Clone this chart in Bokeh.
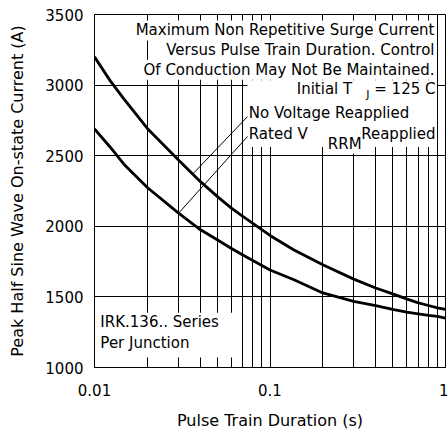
from bokeh.plotting import figure
from bokeh.models import FixedTicker, Label, BoxAnnotation
from bokeh.embed import file_html
from bokeh.resources import INLINE

# ---------------- data ----------------
duration_s = [0.01, 0.0123, 0.0147, 0.02, 0.03, 0.04, 0.05, 0.06, 0.07, 0.1,
              0.137, 0.2, 0.3, 0.4, 0.5, 0.6, 0.7, 0.8, 0.9, 1.0]
no_voltage_reapplied = [3200, 3030, 2902, 2693, 2472, 2318, 2212, 2130, 2071, 1935,
                        1832, 1727, 1626, 1563, 1521, 1486, 1458, 1439, 1423, 1411]
rated_vrrm_reapplied = [2690, 2560, 2440, 2275, 2095, 1977, 1905, 1845, 1797, 1690,
                        1621, 1528, 1469, 1439, 1411, 1392, 1380, 1369, 1362, 1350]

x_ticks = [0.01, 0.1, 1]
x_tick_labels = ["0.01", "0.1", "1"]
y_ticks = [1000, 1500, 2000, 2500, 3000, 3500]
x_grid_values = [0.02, 0.03, 0.04, 0.05, 0.06, 0.07, 0.08, 0.09, 0.1,
                 0.2, 0.3, 0.4, 0.5, 0.6, 0.7, 0.8, 0.9]
y_grid_values = [1500, 2000, 2500, 3000]

# leader lines from the legend texts to the curves
leader_x0 = [0.0757, 0.0757]
leader_y0 = [2786, 2646]
leader_x1 = [0.036, 0.030]
leader_y1 = [2366, 2090]

FONT = "DejaVu Sans"

p = figure(width=448, height=432, x_axis_type="log",
           x_range=(0.01, 1), y_range=(1000, 3500),
           output_backend="svg", toolbar_location=None,
           min_border_left=94, min_border_right=3,
           min_border_top=14, min_border_bottom=64)

p.background_fill_color = "white"
p.border_fill_color = "white"
p.outline_line_color = "black"
p.outline_line_width = 1
p.outline_line_alpha = 1

# axes
xa = p.xaxis[0]
xa.ticker = FixedTicker(ticks=x_ticks, minor_ticks=[])
xa.major_label_overrides = {t: l for t, l in zip(x_ticks, x_tick_labels)}
ya = p.yaxis[0]
ya.ticker = FixedTicker(ticks=y_ticks, minor_ticks=[])
for ax in (xa, ya):
    ax.major_tick_in = 0
    ax.major_tick_out = 0
    ax.minor_tick_in = 0
    ax.minor_tick_out = 0
    ax.axis_line_color = "black"
    ax.major_label_text_font = FONT
    ax.major_label_text_font_size = "15px"
    ax.major_label_text_color = "black"
    ax.axis_label_text_font = FONT
    ax.axis_label_text_font_size = "16px"
    ax.axis_label_text_font_style = "normal"
    ax.axis_label_text_color = "black"
xa.axis_label = "Pulse Train Duration (s)"
ya.axis_label = "Peak Half Sine Wave On-state Current (A)"
xa.major_label_standoff = 16
xa.axis_label_standoff = 12
ya.major_label_standoff = 11
ya.axis_label_standoff = 15

# grid
p.xgrid.ticker = FixedTicker(ticks=x_grid_values)
p.ygrid.ticker = FixedTicker(ticks=y_grid_values)
for g in (p.xgrid[0], p.ygrid[0]):
    g.grid_line_color = "black"
    g.grid_line_width = 1
    g.grid_line_alpha = 1

# curves
p.line(duration_s, no_voltage_reapplied, line_color="black", line_width=2.8)
p.line(duration_s, rated_vrrm_reapplied, line_color="black", line_width=2.8)

# leader lines
p.segment(leader_x0, leader_y0, leader_x1, leader_y1, line_color="black", line_width=1)

# white panels behind the text blocks
p.add_layout(BoxAnnotation(left=0.0745, right=0.895, bottom=2561, top=3034,
                           fill_color="white", fill_alpha=1, line_color=None))
p.add_layout(BoxAnnotation(left=0.0105, right=0.0662, bottom=1071, top=1388,
                           fill_color="white", fill_alpha=1, line_color=None))


def lab(text, x, y, align="right", size="15px", bg=None, pad=1):
    kw = dict(x=x, y=y, text=text, text_align=align, text_baseline="middle",
              text_font=FONT, text_font_size=size, text_color="black")
    if bg:
        kw.update(background_fill_color=bg, background_fill_alpha=1, padding=pad)
    p.add_layout(Label(**kw))


lab("Maximum Non Repetitive Surge Current", 0.877, 3387, bg="white")
lab("Versus Pulse Train Duration. Control", 0.877, 3246, bg="white")
lab("Of Conduction May Not Be Maintained.", 0.877, 3109, bg="white")
lab("Initial T", 0.294, 2975)
lab("J", 0.369, 2935, size="11px")
lab("= 125 C", 0.877, 2975)
lab("No Voltage Reapplied", 0.0757, 2799, align="left")
lab("Rated V", 0.0757, 2657, align="left")
lab("Reapplied", 0.877, 2657)
lab("RRM", 0.2135, 2580, align="left", bg="white", pad=0)
lab("IRK.136.. Series", 0.0108, 1325, align="left")
lab("Per Junction", 0.0108, 1170, align="left")

open("out.html", "w").write(file_html(p, INLINE))
